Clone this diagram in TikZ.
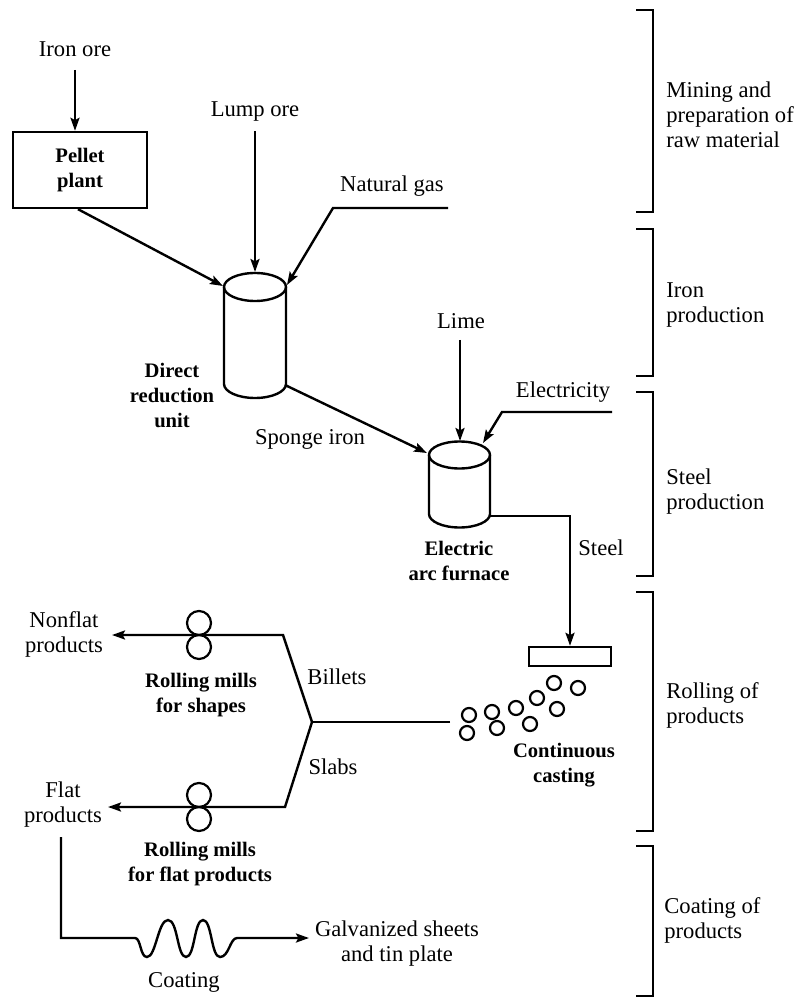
\documentclass[tikz,border=0pt]{standalone}
\usepackage{fontspec}
\setmainfont{Liberation Serif}
\usetikzlibrary{arrows.meta}

\tikzset{
  txt/.style={font=\fontsize{11.3}{12.5}\selectfont, inner sep=0pt, align=center},
  btxt/.style={font=\bfseries\fontsize{10.3}{12.5}\selectfont, inner sep=0pt, align=center},
  sidetxt/.style={txt, align=left, anchor=west},
  ln/.style={line width=1.2pt, line join=miter},
  flow/.style={ln, -{Stealth[length=6.5pt,width=4.5pt,inset=1.2pt]}},
  brk/.style={line width=1.2pt},
  unitbox/.style={draw, line width=1.2pt},
  roll/.style={line width=1.1pt}
}

\begin{document}
\begin{tikzpicture}[x=0.5pt, y=-0.5pt]
\useasboundingbox (0,0) rectangle (803,999);

% ---------- raw material ----------
\node[txt] (ironore) at (75,49) {Iron ore};
\node[unitbox, btxt, minimum width=67pt, minimum height=38pt] (pellet) at (80,170) {Pellet\\plant};
\draw[flow] ([yshift=-6.5pt]ironore.south) -- (ironore.south |- pellet.north);

\node[txt] (lump) at (255,112) {Lump ore};
\node[txt] (natgas) at (392,186) {Natural gas};
\coordinate (ng-end) at (448,208);

% ---------- direct reduction unit ----------
\draw[ln] (224,287) -- (224,384) arc[start angle=180, end angle=360, x radius=15.5pt, y radius=7pt] -- (286,287);
\draw[ln] (255,287) ellipse[x radius=15.5pt, y radius=7pt];
\coordinate (dru-top) at (255,272);
\coordinate (dru-ne) at (287,285);
\coordinate (dru-nw) at (223,286);
\coordinate (dru-out) at (285,385);
\node[btxt] (drulbl) at (172,395) {Direct\\reduction\\unit};

\draw[flow] ([yshift=-4.5pt]lump.south) -- (dru-top);
\draw[flow] (ng-end) -- ++(-115,0) -- (dru-ne);
\draw[flow] ([xshift=-1pt]pellet.south) -- (dru-nw);

% ---------- electric arc furnace ----------
\draw[ln] (429,455) -- (429,514) arc[start angle=180, end angle=360, x radius=15.25pt, y radius=6.75pt] -- (490,455);
\draw[ln] (459.5,455) ellipse[x radius=15.25pt, y radius=6.75pt];
\coordinate (eaf-top) at (460,441);
\coordinate (eaf-ne) at (483,443);
\coordinate (eaf-w) at (427,453);
\coordinate (eaf-out) at (490,516);
\node[btxt] (eaflbl) at (459,560.5) {Electric\\arc furnace};

\node[txt] (sponge) at (310,439) {Sponge iron};
\draw[flow] (dru-out) -- (eaf-w);

\node[txt] (lime) at (461,321) {Lime};
\draw[flow] ([yshift=-5.5pt]lime.south -| eaf-top) -- (eaf-top);

\node[txt] (elec) at (563,392) {Electricity};
\coordinate (elec-end) at (612,412);
\draw[flow] (elec-end) -- ++(-110,0) -- (eaf-ne);

% ---------- continuous casting ----------
\node[unitbox, inner sep=0pt, minimum width=41pt, minimum height=9.5pt] (tundish) at (570,656.5) {};
\node[txt] (steel) at (601,548) {Steel};
\draw[flow] (eaf-out) -| (tundish.north);

\foreach \cx/\cy in {554/683, 578/688, 537/698, 516/708, 557/709,
                     492/712, 469/715, 530/724, 497/728, 467/733}
  \draw[roll] (\cx,\cy) circle[radius=3.5pt];
\node[btxt] (cclbl) at (564,765.5) {Continuous\\casting};

% ---------- rolling ----------
\coordinate (cc-in) at (450,722);
\coordinate (jn) at (312,722);
\draw[ln] (cc-in) -- (jn);

\node[txt] (nonflat) at (64,634) {Nonflat\\products};
\node[txt] (flat) at (63,805) {Flat\\products};
\coordinate (nf-tip) at (112,635);
\coordinate (fl-tip) at (108,807);
\draw[flow] (jn) -- (283,635) -- (nf-tip);
\draw[flow] (jn) -- (285,807) -- (fl-tip);

\node[txt] (billets) at (337,677) {Billets};
\node[txt] (slabs) at (333,767) {Slabs};

\draw[roll] (199,623) circle[radius=6pt] (199,647) circle[radius=6pt];
\draw[roll] (199,795) circle[radius=6pt] (199,819) circle[radius=6pt];
\node[btxt] (rmshapes) at (201,695) {Rolling mills\\for shapes};
\node[btxt] (rmflat) at (200,864) {Rolling mills\\for flat products};

% ---------- coating ----------
\coordinate (fl-down) at (61,837);
\coordinate (coat-in) at (135,938);
\coordinate (coat-out) at (237,938);
\node[txt] (galv) at (397,943.5) {Galvanized sheets\\and tin plate};
\coordinate (galv-tip) at (309,938);
\node[txt] (coatlbl) at (184,982) {Coating};
\draw[flow] (fl-down) |- (coat-in)
  .. controls (141,938) and (140,957) .. (147,957)
  .. controls (156,957) and (158,920) .. (168,920)
  .. controls (178,920) and (177,957) .. (186,957)
  .. controls (195,957) and (194,920) .. (203,920)
  .. controls (212,920) and (211,957) .. (220,957)
  .. controls (229,957) and (230,938) .. (coat-out) -- (galv-tip);

% ---------- stage brackets ----------
\draw[brk] (636,10) -| (653,212) -- (636,212);
\draw[brk] (636,229) -| (653,376) -- (636,376);
\draw[brk] (636,392) -| (653,576) -- (636,576);
\draw[brk] (636,592) -| (653,831) -- (636,831);
\draw[brk] (636,846) -| (653,996) -- (636,996);

\node[sidetxt] (s1) at (666,115) {Mining and\\preparation of\\raw material};
\node[sidetxt] (s2) at (666,305.5) {Iron\\production};
\node[sidetxt] (s3) at (666,492) {Steel\\production};
\node[sidetxt] (s4) at (666,705.5) {Rolling of\\products};
\node[sidetxt] (s5) at (664,920.5) {Coating of\\products};
\end{tikzpicture}
\end{document}
